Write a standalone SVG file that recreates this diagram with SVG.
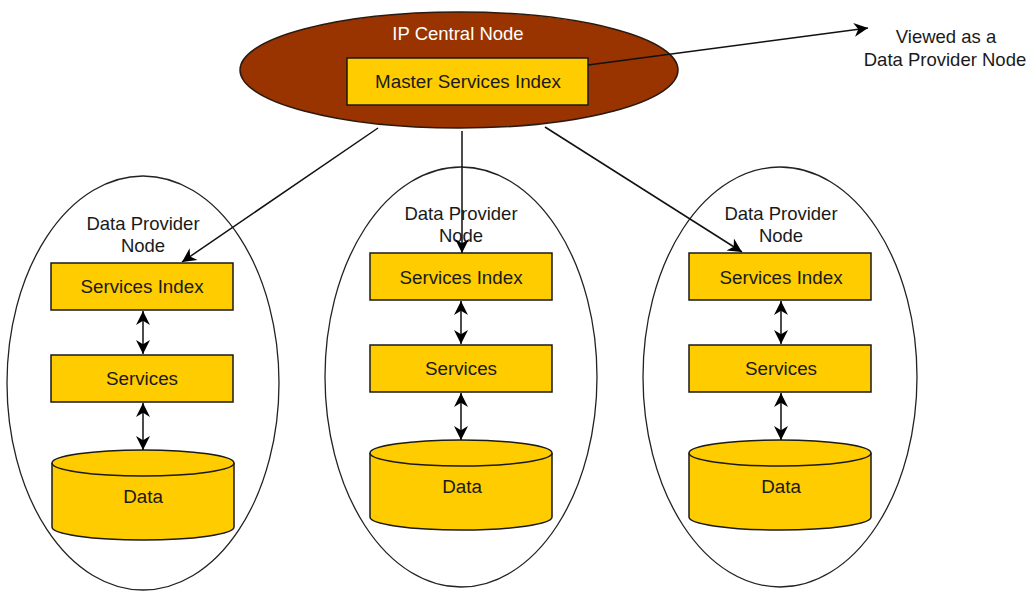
<svg xmlns="http://www.w3.org/2000/svg" width="1029" height="591" viewBox="0 0 1029 591">
<defs>
<marker id="ah" viewBox="0 0 10 10" refX="10" refY="5" markerWidth="15" markerHeight="14" markerUnits="userSpaceOnUse" orient="auto-start-reverse">
<path d="M0,0 L10,5 L0,10 L3,5 Z" fill="#000"/>
</marker>
<marker id="dh" viewBox="0 0 10 10" refX="10" refY="5" markerWidth="14" markerHeight="16" markerUnits="userSpaceOnUse" orient="auto-start-reverse">
<path d="M0,0 L10,5 L0,10 L3,5 Z" fill="#000"/>
</marker>
</defs>
<style>
text{font-family:"Liberation Sans",Arial,sans-serif;fill:#1a1a1a;text-anchor:middle}
.box{fill:#ffcc00;stroke:#1a1a1a;stroke-width:1.5}
.grp{fill:#fff;stroke:#222;stroke-width:1.3}
.lbl{font-size:18.5px}
.big{font-size:18.8px}
.conn{stroke:#111;stroke-width:1.5;fill:none}
</style>
<rect width="1029" height="591" fill="#fff"/>

<g id="dp1">
<ellipse class="grp" cx="143" cy="383" rx="136" ry="207"/>
<text class="lbl" x="143" y="230">Data Provider</text>
<text class="lbl" x="143" y="252">Node</text>
</g>
<g id="dp2">
<ellipse class="grp" cx="461" cy="377" rx="136" ry="210"/>
<text class="lbl" x="461" y="220">Data Provider</text>
<text class="lbl" x="461" y="242">Node</text>
</g>
<g id="dp3">
<ellipse class="grp" cx="780" cy="377" rx="137" ry="210"/>
<text class="lbl" x="781" y="220">Data Provider</text>
<text class="lbl" x="781" y="242">Node</text>
</g>

<g id="central">
<ellipse cx="459" cy="70" rx="219" ry="58" fill="#993300" stroke="#2a1a10" stroke-width="1.5"/>
<text class="lbl" x="458" y="40" style="fill:#fff">IP Central Node</text>
</g>
<g id="msi">
<rect class="box" x="347" y="58" width="241" height="47"/>
<text class="big" x="468" y="88">Master Services Index</text>
</g>
<g id="viewed">
<text class="lbl" x="946" y="43">Viewed as a</text>
<text class="lbl" x="945" y="66">Data Provider Node</text>
</g>

<g id="si1"><rect class="box" x="51" y="263" width="182" height="47"/><text class="big" x="142" y="293">Services Index</text></g>
<g id="sv1"><rect class="box" x="51" y="355" width="182" height="47"/><text class="big" x="142" y="385">Services</text></g>
<g id="db1">
<path class="box" d="M52,463 L52,527 A91,13 0 0 0 234,527 L234,463"/>
<ellipse class="box" cx="143" cy="463" rx="91" ry="13"/>
<text class="big" x="143" y="503">Data</text>
</g>

<g id="si2"><rect class="box" x="370" y="253" width="182" height="47"/><text class="big" x="461" y="284">Services Index</text></g>
<g id="sv2"><rect class="box" x="370" y="345" width="182" height="47"/><text class="big" x="461" y="375">Services</text></g>
<g id="db2">
<path class="box" d="M370,453 L370,517 A91,13 0 0 0 552,517 L552,453"/>
<ellipse class="box" cx="461" cy="453" rx="91" ry="13"/>
<text class="big" x="462" y="493">Data</text>
</g>

<g id="si3"><rect class="box" x="689" y="253" width="182" height="47"/><text class="big" x="781" y="284">Services Index</text></g>
<g id="sv3"><rect class="box" x="689" y="345" width="182" height="47"/><text class="big" x="781" y="375">Services</text></g>
<g id="db3">
<path class="box" d="M689,453 L689,517 A91,13 0 0 0 871,517 L871,453"/>
<ellipse class="box" cx="780" cy="453" rx="91" ry="13"/>
<text class="big" x="781" y="493">Data</text>
</g>

<g id="connectors">
<line class="conn" x1="588" y1="65" x2="868" y2="28" marker-end="url(#ah)"/>
<line class="conn" x1="378" y1="128" x2="182" y2="262" marker-end="url(#ah)"/>
<line class="conn" x1="462" y1="131" x2="462" y2="253" marker-end="url(#ah)"/>
<line class="conn" x1="545" y1="127" x2="742" y2="252" marker-end="url(#ah)"/>
<line class="conn" x1="143" y1="311" x2="143" y2="354" marker-start="url(#dh)" marker-end="url(#dh)"/>
<line class="conn" x1="143" y1="403" x2="143" y2="450" marker-start="url(#dh)" marker-end="url(#dh)"/>
<line class="conn" x1="461" y1="301" x2="461" y2="344" marker-start="url(#dh)" marker-end="url(#dh)"/>
<line class="conn" x1="461" y1="393" x2="461" y2="440" marker-start="url(#dh)" marker-end="url(#dh)"/>
<line class="conn" x1="781" y1="301" x2="781" y2="344" marker-start="url(#dh)" marker-end="url(#dh)"/>
<line class="conn" x1="781" y1="393" x2="781" y2="440" marker-start="url(#dh)" marker-end="url(#dh)"/>
</g>
</svg>
